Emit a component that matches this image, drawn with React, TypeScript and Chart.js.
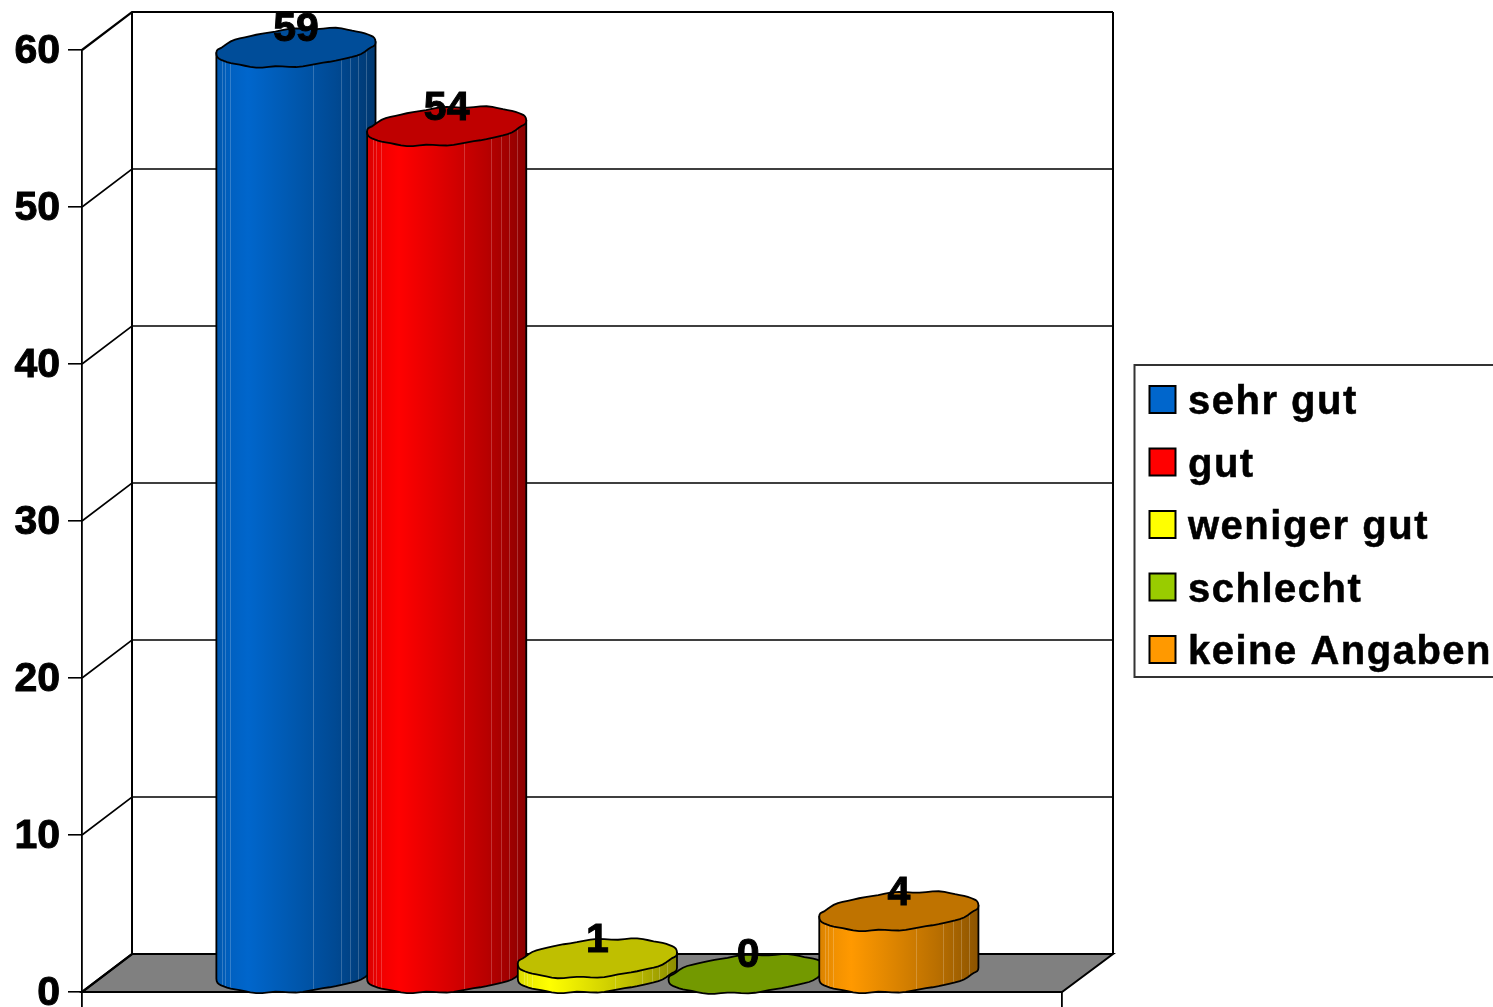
import React, { useEffect, useRef } from "react";
import { Chart, registerables } from "chart.js";

Chart.register(...registerables);

const CATEGORIES = [""];
const SERIES_NAMES = ["sehr gut", "gut", "weniger gut", "schlecht", "keine Angaben"];
const SERIES_VALUES = [59, 54, 1, 0, 4];
const SERIES_RGB = [
  [0, 102, 204],
  [255, 0, 0],
  [255, 255, 0],
  [153, 204, 0],
  [255, 153, 0],
];

const FONT = '"Liberation Sans", Arial, sans-serif';
const rgb = (c: number[], m = 1) => `rgb(${Math.round(c[0] * m)},${Math.round(c[1] * m)},${Math.round(c[2] * m)})`;

const DEPTH_X = 50;
const DEPTH_Y = 38;
const SHADE_STOPS = [[0, 0.85], [0.1, 0.95], [0.2, 1], [0.5, 0.85], [0.75, 0.72], [1, 0.55]];
const STREAKS = [0.036, 0.056, 0.087, 0.61, 0.78, 0.84, 0.89, 0.94];

const cylinderPlugin = {
  id: "cylinders",
  beforeDatasetsDraw(chart: any) {
    const ctx = chart.ctx;
    const { left, right } = chart.chartArea;
    const yS = chart.scales.y;
    const y0 = yS.getPixelForValue(0);
    const yMax = yS.getPixelForValue(yS.max);
    ctx.save();
    // floor
    ctx.fillStyle = "#808080";
    ctx.beginPath();
    ctx.moveTo(left, y0);
    ctx.lineTo(left + DEPTH_X, y0 - DEPTH_Y);
    ctx.lineTo(right + DEPTH_X + 1, y0 - DEPTH_Y);
    ctx.lineTo(right, y0);
    ctx.closePath();
    ctx.fill();
    ctx.strokeStyle = "#000";
    ctx.lineWidth = 2;
    ctx.stroke();
    // grid on walls
    yS.ticks.forEach((t: any) => {
      const y = yS.getPixelForValue(t.value);
      ctx.beginPath();
      ctx.moveTo(left, y);
      ctx.lineTo(left + DEPTH_X, y - DEPTH_Y);
      ctx.lineTo(right + DEPTH_X + 1, y - DEPTH_Y);
      ctx.lineWidth = t.value === 0 || t.value === yS.max ? 2.2 : 1.6;
      ctx.stroke();
    });
    // back wall edges
    ctx.lineWidth = 2;
    ctx.beginPath();
    ctx.moveTo(left + DEPTH_X, yMax - DEPTH_Y);
    ctx.lineTo(left + DEPTH_X, y0 - DEPTH_Y);
    ctx.moveTo(right + DEPTH_X + 1, yMax - DEPTH_Y);
    ctx.lineTo(right + DEPTH_X + 1, y0 - DEPTH_Y);
    ctx.stroke();

    const labels: any[] = [];
    chart.data.datasets.forEach((ds: any, i: number) => {
      const bar = chart.getDatasetMeta(i).data[0];
      const c = SERIES_RGB[i];
      const rx = (bar.width * 1.056) / 2;
      const ry = 18.6;
      const shear = 6;
      const cx = bar.x + DEPTH_X / 2 + 0.4;
      const topY = bar.y - DEPTH_Y / 2 + 1;
      const baseY = bar.base - DEPTH_Y / 2 + 1;
      const px = (t: number) => cx + rx * Math.cos(t);
      const py = (cy: number, t: number) =>
        cy + ry * Math.sin(t) - shear * Math.cos(t) + 0.6 * Math.sin(9 * t + 1) + 0.4 * Math.sin(13 * t);
      const N = 72;
      if (ds.data[0] > 0) {
        const side = new Path2D();
        side.moveTo(px(Math.PI), py(topY, Math.PI));
        for (let k = 0; k <= N / 2; k++) {
          const t = Math.PI - (k / (N / 2)) * Math.PI;
          side.lineTo(px(t), py(baseY, t));
        }
        side.lineTo(px(0), py(topY, 0));
        side.closePath();
        const g = ctx.createLinearGradient(cx - rx, 0, cx + rx, 0);
        SHADE_STOPS.forEach(([p, m]) => g.addColorStop(p, rgb(c, m)));
        ctx.fillStyle = g;
        ctx.fill(side);
        ctx.save();
        ctx.clip(side);
        ctx.strokeStyle = "rgba(255,255,255,0.2)";
        ctx.lineWidth = 1;
        STREAKS.forEach((f) => {
          const x = Math.round(cx - rx + f * 2 * rx) + 0.5;
          ctx.beginPath();
          ctx.moveTo(x, topY - 30);
          ctx.lineTo(x, baseY + 30);
          ctx.stroke();
        });
        ctx.restore();
        ctx.strokeStyle = "#000";
        ctx.lineWidth = 1.8;
        ctx.stroke(side);
      }
      ctx.beginPath();
      for (let k = 0; k <= N; k++) {
        const t = (k / N) * Math.PI * 2;
        if (k === 0) ctx.moveTo(px(t), py(topY, t));
        else ctx.lineTo(px(t), py(topY, t));
      }
      ctx.closePath();
      ctx.fillStyle = rgb(c, 0.75);
      ctx.fill();
      ctx.strokeStyle = "#000";
      ctx.lineWidth = 1.8;
      ctx.stroke();
      labels.push({ x: cx, y: topY - 18, text: String(ds.data[0]) });
    });
    // data labels
    ctx.fillStyle = "#000";
    ctx.strokeStyle = "#000";
    ctx.lineWidth = 1;
    ctx.font = `bold 41px ${FONT}`;
    ctx.textAlign = "center";
    ctx.textBaseline = "middle";
    labels.forEach((l) => {
      ctx.fillText(l.text, l.x, l.y);
      ctx.strokeText(l.text, l.x, l.y);
    });

    // legend
    ctx.strokeStyle = "#333";
    ctx.lineWidth = 2;
    ctx.fillStyle = "#fff";
    ctx.beginPath();
    ctx.rect(1134.5, 365, 400, 312);
    ctx.fill();
    ctx.stroke();
    ctx.textAlign = "left";
    ctx.font = `bold 40px ${FONT}`;
    (ctx as any).letterSpacing = "1.5px";
    chart.data.datasets.forEach((ds: any, i: number) => {
      const yc = 400 + i * 62.5;
      ctx.fillStyle = ds.backgroundColor;
      ctx.fillRect(1149.5, yc - 14, 26, 27);
      ctx.strokeStyle = "#000";
      ctx.lineWidth = 2;
      ctx.strokeRect(1149.5, yc - 14, 26, 27);
      ctx.fillStyle = "#000";
      ctx.fillText(ds.label, 1188, yc + 3);
      ctx.lineWidth = 0.5;
      ctx.strokeText(ds.label, 1188, yc + 3);
    });
    (ctx as any).letterSpacing = "0px";
    ctx.restore();
    return false;
  },
};

export default function App() {
  const ref = useRef<HTMLCanvasElement>(null);
  useEffect(() => {
    const chart = new Chart(ref.current!, {
      type: "bar",
      data: {
        labels: CATEGORIES,
        datasets: SERIES_NAMES.map((name, i) => ({
          label: name,
          data: [SERIES_VALUES[i]],
          backgroundColor: rgb(SERIES_RGB[i]),
        })),
      },
      options: {
        animation: false,
        responsive: false,
        devicePixelRatio: 1,
        layout: { padding: { left: 0, top: 50, right: 431, bottom: 0 } },
        datasets: { bar: { barPercentage: 1, categoryPercentage: 0.769 } },
        plugins: { legend: { display: false }, tooltip: { enabled: false } },
        scales: {
          x: {
            display: true,
            ticks: { display: false },
            grid: { drawOnChartArea: false, tickLength: 15, color: "#000", lineWidth: 1.8 },
            border: { color: "#000", width: 2 },
            afterFit(s: any) {
              s.height = 15;
              s.paddingLeft = 0;
              s.paddingRight = 0;
            },
          },
          y: {
            min: 0,
            max: 60,
            ticks: {
              stepSize: 10,
              color: "#000",
              padding: 8,
              labelOffset: 2,
              textStrokeColor: "#000",
              textStrokeWidth: 1,
              font: { family: FONT, weight: "bold", size: 41 },
            },
            grid: { drawOnChartArea: false, tickLength: 14, color: "#000", lineWidth: 1.6 },
            border: { color: "#000", width: 1.8 },
            afterFit(s: any) {
              s.width = 82;
              s.paddingTop = 0;
              s.paddingBottom = 0;
            },
          },
        },
      } as any,
      plugins: [cylinderPlugin as any],
    });
    return () => chart.destroy();
  }, []);
  return (
    <div style={{ position: "absolute", left: 0, top: 0, width: 1493, height: 1007, overflow: "hidden", background: "#fff" }}>
      <canvas ref={ref} width={1493} height={1007} style={{ display: "block" }} />
    </div>
  );
}
